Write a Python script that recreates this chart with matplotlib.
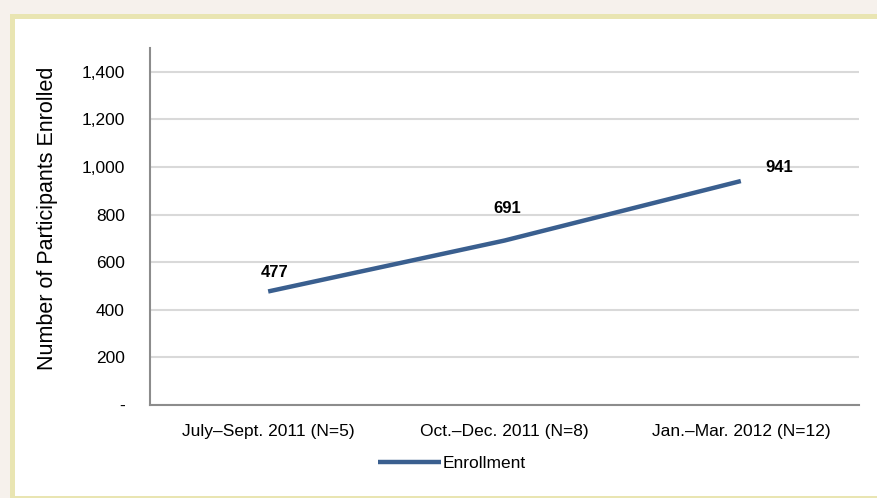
import matplotlib.pyplot as plt
from matplotlib.patches import Rectangle

plt.rcParams['font.family'] = ['Liberation Sans', 'DejaVu Sans']

quarters = ['July\u2013Sept. 2011 (N=5)', 'Oct.\u2013Dec. 2011 (N=8)', 'Jan.\u2013Mar. 2012 (N=12)']
enrollment = [477, 691, 941]
yticks = [0, 200, 400, 600, 800, 1000, 1200, 1400]
ytick_labels = ['-', '200', '400', '600', '800', '1,000', '1,200', '1,400']

W, H = 877, 498
fig = plt.figure(figsize=(W / 100, H / 100), dpi=100)
fig.patch.set_facecolor('#F6F1EC')

# yellow framed white panel
fig.patches.append(Rectangle((10 / W, 0), 1, 1 - 14 / H, transform=fig.transFigure,
                             facecolor='#E9E5B2', edgecolor='none', zorder=-2))
fig.patches.append(Rectangle((15 / W, 2 / H), 1, 1 - 19 / H - 2 / H, transform=fig.transFigure,
                             facecolor='white', edgecolor='none', zorder=-1))

ax = fig.add_axes([150 / W, 1 - 405 / H, 709 / W, 357 / H])
ax.set_facecolor('none')
x = list(range(len(quarters)))
line, = ax.plot(x, enrollment, color='#3A5F8F', lw=3.2, solid_capstyle='butt', label='Enrollment')

offsets = [(5, 8), (2, 18), (28, 4)]
for xi, v, off in zip(x, enrollment, offsets):
    ax.annotate(str(v), (xi, v), xytext=off, textcoords='offset points',
                ha='center', va='bottom', fontsize=12, fontweight='bold')

ax.set_xlim(-0.5, 2.5)
ax.set_ylim(0, 1500)
ax.set_yticks(yticks)
ax.set_yticklabels(ytick_labels, fontsize=12.5)
ax.set_xticks(x)
ax.set_xticklabels(quarters, fontsize=12.5)
ax.tick_params(length=0)
ax.tick_params(axis='y', pad=18)
ax.tick_params(axis='x', pad=14)
ax.grid(axis='y', color='#D9D9D9', lw=1.5)
ax.set_axisbelow(True)
for s in ['top', 'right']:
    ax.spines[s].set_visible(False)
for s in ['left', 'bottom']:
    ax.spines[s].set_color('#8C8C8C')
    ax.spines[s].set_linewidth(1.5)

ax.set_ylabel('Number of Participants Enrolled', fontsize=15.5)
ax.yaxis.set_label_coords(-0.13, 0.524)

fig.legend(handles=[line], loc='center', bbox_to_anchor=(452 / W, 1 - 463 / H),
           frameon=False, fontsize=12.5, handlelength=3.6, handletextpad=0.1)

fig.savefig('out.png', dpi=100, facecolor=fig.get_facecolor())
